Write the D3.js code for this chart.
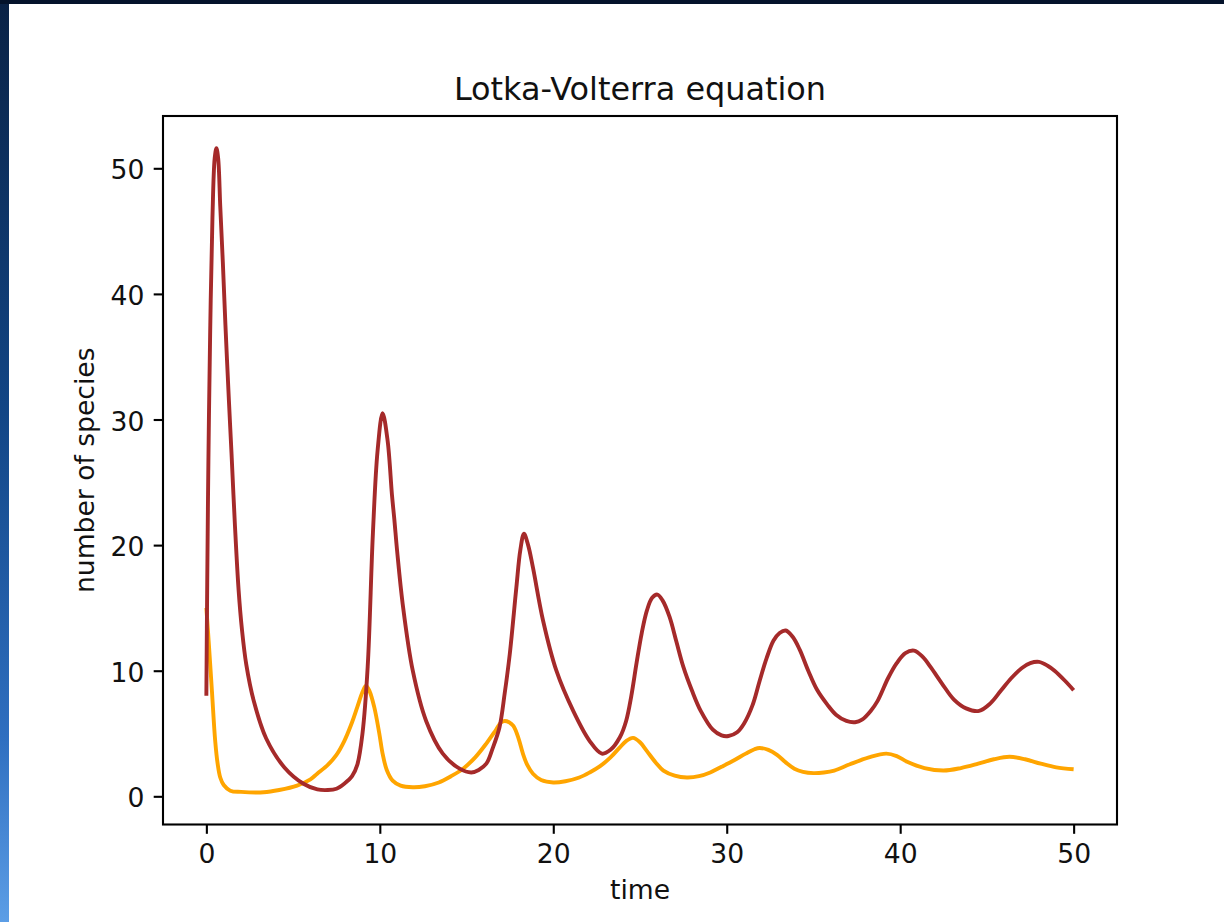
<!DOCTYPE html>
<html>
<head>
<meta charset="utf-8">
<script src="https://cdn.jsdelivr.net/npm/d3@7/dist/d3.min.js"></script>
<style>
  html, body { margin: 0; padding: 0; background: #ffffff; }
  svg { display: block; }
  text { font-family: "DejaVu Sans", sans-serif; fill: #111; }
</style>
</head>
<body>
<svg id="chart" width="1224" height="922"></svg>
<script>
// ---- Data ----
const title = "Lotka-Volterra equation";
const xLabel = "time";
const yLabel = "number of species";
const xTicks = [0, 10, 20, 30, 40, 50];
const yTicks = [0, 10, 20, 30, 40, 50];

// predator (brown)
const predatorT = [0, 0.05, 0.12, 0.22, 0.35, 0.48, 0.58, 0.68, 0.8, 0.95, 1.1, 1.3, 1.45, 1.65, 1.86, 2.05, 2.3, 2.73, 3.45, 4.5, 5.6, 6.4, 7.0, 7.5, 7.95, 8.4, 8.7, 9.0, 9.3, 9.6, 9.87, 10.16, 10.45, 10.7, 10.84, 11.0, 11.32, 11.9, 12.67, 13.63, 14.6, 15.27, 15.7, 16.14, 16.5, 16.9, 17.2, 17.49, 17.87, 18.1, 18.31, 18.55, 18.83, 19.41, 20.18, 21.15, 22.1, 22.8, 23.3, 23.84, 24.2, 24.5, 24.8, 25.1, 25.4, 25.7, 26.0, 26.3, 26.7, 27.1, 27.5, 28.0, 28.5, 29.2, 29.7, 30.1, 30.6, 31.0, 31.5, 31.9, 32.3, 32.7, 33.05, 33.4, 33.8, 34.2, 34.7, 35.2, 35.8, 36.3, 36.9, 37.4, 37.8, 38.3, 38.7, 39.3, 39.8, 40.3, 40.8, 41.3, 41.8, 42.4, 43.1, 43.8, 44.55, 45.2, 45.8, 46.4, 47.0, 47.5, 48.0, 48.5, 48.9, 49.5, 50];
const predatorV = [8.0, 17, 27, 37, 46, 50.8, 51.6, 50.8, 47, 42.5, 37.5, 31.5, 27.3, 21.5, 16.4, 13.3, 10.5, 7.6, 4.6, 2.3, 1.0, 0.55, 0.5, 0.6, 1.0, 1.6, 2.5, 5.0, 10.3, 20.9, 27.5, 30.5, 28.3, 24, 22, 19.5, 15.3, 10.0, 6.0, 3.4, 2.2, 1.9, 2.1, 2.6, 3.8, 5.5, 8.2, 11.3, 16.6, 19.6, 20.9, 20.0, 18.2, 14.0, 10.0, 6.8, 4.4, 3.4, 3.7, 4.7, 6.0, 8.0, 10.6, 13.0, 14.8, 15.8, 16.06, 15.6, 14.3, 12.3, 10.3, 8.4, 6.8, 5.3, 4.85, 4.8, 5.1, 5.8, 7.3, 9.2, 11.0, 12.4, 13.0, 13.2, 12.7, 11.7, 10.0, 8.5, 7.3, 6.5, 6.0, 5.9, 6.1, 6.8, 7.6, 9.4, 10.6, 11.4, 11.6, 11.1, 10.2, 9.0, 7.7, 7.0, 6.8, 7.4, 8.4, 9.4, 10.2, 10.6, 10.7, 10.4, 10.0, 9.2, 8.45];

// prey (orange)
const preyT = [0, 0.13, 0.32, 0.51, 0.65, 0.8, 1.0, 1.38, 2.0, 3.3, 4.2, 5.23, 6.0, 6.39, 7.0, 7.5, 7.95, 8.4, 8.7, 9.0, 9.2, 9.4, 9.68, 9.97, 10.16, 10.4, 10.74, 11.2, 11.9, 12.6, 13.4, 14.1, 14.8, 15.5, 16.14, 16.7, 17.0, 17.2, 17.45, 17.7, 18.0, 18.25, 18.5, 18.83, 19.3, 20.0, 20.7, 21.5, 22.1, 22.7, 23.3, 23.84, 24.2, 24.6, 25.0, 25.4, 25.9, 26.35, 27, 27.7, 28.4, 29.05, 29.7, 30.4, 31.1, 31.6, 31.9, 32.4, 32.9, 33.4, 33.9, 34.4, 35.0, 35.6, 36.2, 37.1, 38.2, 39.2, 39.8, 40.4, 41.4, 42.5, 43.5, 44.5, 45.4, 46.3, 47.2, 48.1, 49, 50];
const preyV = [15, 12.4, 8.4, 4.4, 2.6, 1.5, 0.9, 0.45, 0.35, 0.32, 0.5, 0.85, 1.35, 1.8, 2.5, 3.3, 4.4, 5.9, 7.1, 8.3, 8.8, 8.4, 7.1, 5.0, 3.4, 2.1, 1.25, 0.85, 0.72, 0.8, 1.1, 1.6, 2.2, 3.1, 4.2, 5.3, 5.9, 6.0, 5.9, 5.6, 4.6, 3.4, 2.5, 1.8, 1.3, 1.1, 1.2, 1.5, 1.9, 2.4, 3.1, 3.9, 4.4, 4.65, 4.3, 3.6, 2.7, 2.05, 1.65, 1.5, 1.6, 1.9, 2.35, 2.85, 3.4, 3.75, 3.85, 3.7, 3.3, 2.7, 2.2, 1.95, 1.85, 1.9, 2.05, 2.55, 3.1, 3.4, 3.2, 2.75, 2.25, 2.05, 2.25, 2.6, 2.95, 3.15, 2.95, 2.6, 2.3, 2.15];

const predatorColor = "#a52a2a";
const preyColor = "#ffa500";

// ---- Layout ----
const svg = d3.select("#chart");
const W = 1224, H = 922;
const plot = { left: 163, right: 1117, top: 116, bottom: 824.5 };
const fs = 26.6;

// slide background edges
const defs = svg.append("defs");
const grad = defs.append("linearGradient").attr("id", "edge").attr("x1", 0).attr("y1", 0).attr("x2", 0).attr("y2", 1);
grad.append("stop").attr("offset", "0%").attr("stop-color", "#0a2245");
grad.append("stop").attr("offset", "45%").attr("stop-color", "#124686");
grad.append("stop").attr("offset", "80%").attr("stop-color", "#2f6fc0");
grad.append("stop").attr("offset", "100%").attr("stop-color", "#5c9ee6");
svg.append("rect").attr("x", 0).attr("y", 0).attr("width", W).attr("height", H).attr("fill", "#ffffff");
svg.append("rect").attr("x", 0).attr("y", 0).attr("width", 9).attr("height", H).attr("fill", "url(#edge)");
svg.append("rect").attr("x", 0).attr("y", 0).attr("width", W).attr("height", 4).attr("fill", "#04132b");

// ---- Scales (matplotlib-like 5% margins) ----
const xExt = [0, 50];
const xPad = (xExt[1] - xExt[0]) * 0.05;
const allV = predatorV.concat(preyV);
const yExt = d3.extent(allV);
const yPad = (yExt[1] - yExt[0]) * 0.05;
const x = d3.scaleLinear().domain([xExt[0] - xPad, xExt[1] + xPad]).range([plot.left, plot.right]);
const y = d3.scaleLinear().domain([yExt[0] - yPad, yExt[1] + yPad]).range([plot.bottom, plot.top]);

// ---- Lines ----
const clip = defs.append("clipPath").attr("id", "plotclip");
clip.append("rect").attr("x", plot.left).attr("y", plot.top)
  .attr("width", plot.right - plot.left).attr("height", plot.bottom - plot.top);

const line = d3.line().x(d => x(d[0])).y(d => y(d[1])).curve(d3.curveCatmullRom.alpha(0.5));
const preyData = preyT.map((t, i) => [t, preyV[i]]);
const predData = predatorT.map((t, i) => [t, predatorV[i]]);

const g = svg.append("g").attr("clip-path", "url(#plotclip)");
g.append("path").datum(preyData).attr("d", line)
  .attr("fill", "none").attr("stroke", preyColor).attr("stroke-width", 3.9)
  .attr("stroke-linejoin", "round").attr("stroke-linecap", "butt");
g.append("path").datum(predData).attr("d", line)
  .attr("fill", "none").attr("stroke", predatorColor).attr("stroke-width", 3.9)
  .attr("stroke-linejoin", "round").attr("stroke-linecap", "butt");

// ---- Axes ----
const tickLen = 9.3, tickPad = 9.3;
const xAxis = d3.axisBottom(x).tickValues(xTicks).tickSize(tickLen).tickPadding(tickPad).tickFormat(d3.format("d"));
const yAxis = d3.axisLeft(y).tickValues(yTicks).tickSize(tickLen).tickPadding(tickPad).tickFormat(d3.format("d"));

const gx = svg.append("g").attr("transform", `translate(0,${plot.bottom})`).call(xAxis);
const gy = svg.append("g").attr("transform", `translate(${plot.left},0)`).call(yAxis);
[gx, gy].forEach(a => {
  a.select(".domain").remove();
  a.selectAll(".tick line").attr("stroke", "#000").attr("stroke-width", 2.1);
  a.selectAll(".tick text").attr("font-family", "DejaVu Sans, sans-serif")
    .attr("font-size", fs).attr("fill", "#111");
});
gx.selectAll(".tick text").attr("y", tickLen + tickPad).attr("dy", "0.76em");
gy.selectAll(".tick text").attr("dy", "0.4em");

// axes frame (spines)
svg.append("rect").attr("x", plot.left).attr("y", plot.top)
  .attr("width", plot.right - plot.left).attr("height", plot.bottom - plot.top)
  .attr("fill", "none").attr("stroke", "#000").attr("stroke-width", 2.1);

// ---- Texts ----
svg.append("text").attr("x", (plot.left + plot.right) / 2).attr("y", 100)
  .attr("text-anchor", "middle").attr("font-size", 31.9).text(title);
svg.append("text").attr("x", (plot.left + plot.right) / 2).attr("y", 899)
  .attr("text-anchor", "middle").attr("font-size", fs).text(xLabel);
svg.append("text").attr("transform", `translate(94,${(plot.top + plot.bottom) / 2}) rotate(-90)`)
  .attr("text-anchor", "middle").attr("font-size", fs).text(yLabel);
</script>
</body>
</html>
